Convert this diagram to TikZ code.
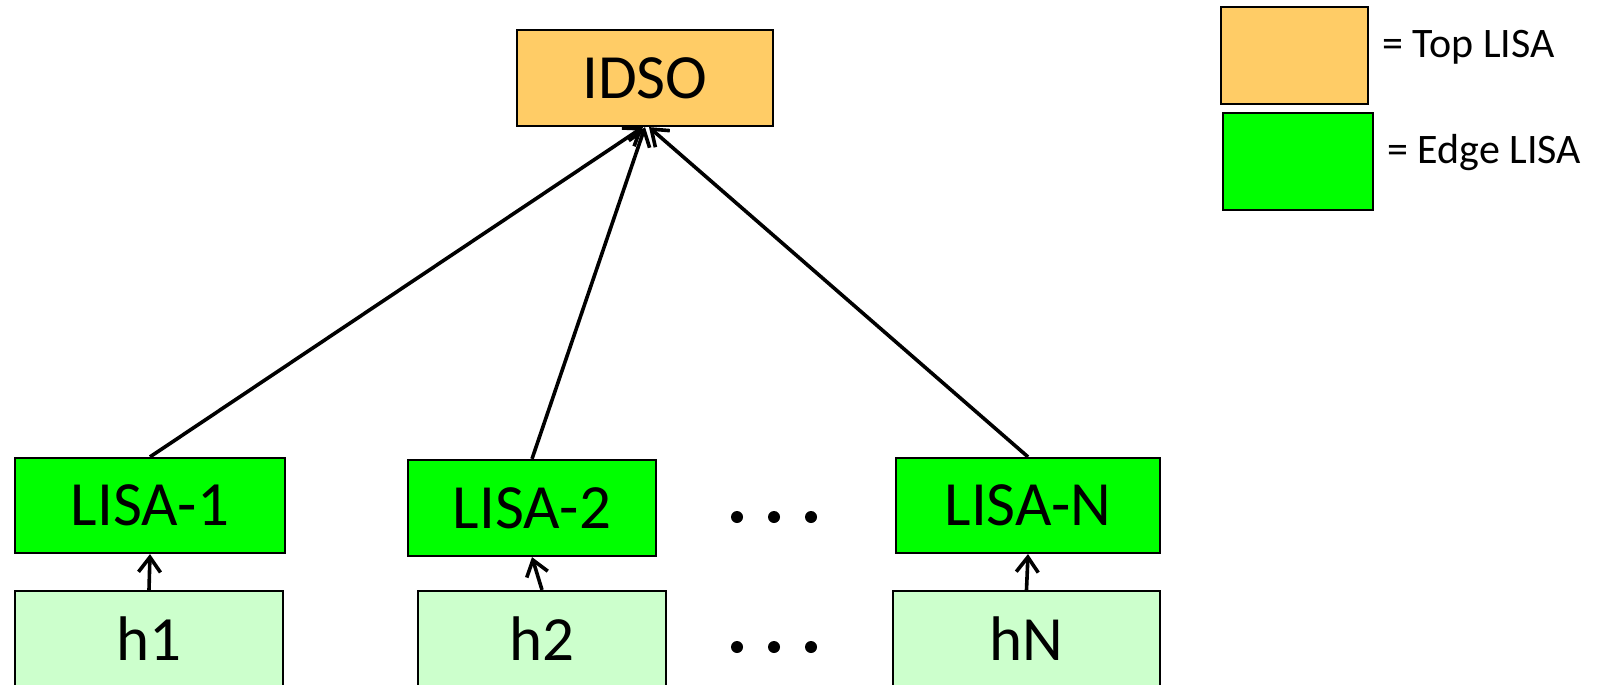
\documentclass[tikz,border=0pt]{standalone}
\usepackage{fontspec}
\setmainfont{Carlito}
\usetikzlibrary{arrows.meta}

\definecolor{topfill}{RGB}{255,204,102}
\definecolor{edgefill}{RGB}{0,255,0}
\definecolor{hostfill}{RGB}{204,255,204}

\tikzset{
  box/.style={draw=black, line width=2.2pt, inner sep=0pt, font=\fontsize{63}{70}\selectfont},
  topbox/.style={box, fill=topfill},
  edgebox/.style={box, fill=edgefill},
  hostbox/.style={box, fill=hostfill},
  link/.style={line width=3.6pt, -{Straight Barb[length=15pt, width=22pt, line width=3.6pt]}},
  legendtxt/.style={anchor=base west, inner sep=0pt, font=\fontsize{42}{50}\selectfont},
  dot/.style={circle, fill=black, inner sep=0pt, minimum size=12pt}
}

\begin{document}
\begin{tikzpicture}[x=1pt, y=-1pt]
  \clip (0,0) rectangle (1601,685);

  % top-level node
  \node[topbox, minimum width=256pt, minimum height=96pt] (idso) at (645,78) {IDSO};

  % edge nodes
  \node[edgebox, minimum width=270pt, minimum height=95pt] (l1) at (150,505.5) {LISA-1};
  \node[edgebox, minimum width=248pt, minimum height=96pt] (l2) at (532,508) {LISA-2};
  \node[edgebox, minimum width=264pt, minimum height=95pt] (ln) at (1028,505.5) {LISA-N};

  % hosts (run off the lower edge)
  \node[hostbox, minimum width=268pt, minimum height=96pt] (h1) at (149,639) {h1};
  \node[hostbox, minimum width=248pt, minimum height=96pt] (h2) at (542,639) {h2};
  \node[hostbox, minimum width=267pt, minimum height=96pt] (hn) at (1026.5,639) {hN};

  % ellipses between the columns
  \node[dot] (d1) at (737,517) {};
  \node[dot] (d2) at (774,517) {};
  \node[dot] (d3) at (811,517) {};
  \node[dot] (e1) at (737,647) {};
  \node[dot] (e2) at (774,647) {};
  \node[dot] (e3) at (811,647) {};

  % reports up to the top node
  \coordinate (t1) at ([xshift=-2pt]idso.south);
  \coordinate (t2) at (idso.south);
  \coordinate (t3) at ([xshift=4pt]idso.south);
  \draw[link] (l1.north) -- (t1);
  \draw[link] (l2.north) -- (t2);
  \draw[link] (ln.north) -- (t3);

  % hosts to their edge nodes
  \draw[link] (h1.north) -- (l1.south);
  \draw[link] (h2.north) -- (l2.south);
  \draw[link] (hn.north) -- (ln.south);

  % legend
  \node[topbox, line width=1.2pt, minimum width=147pt, minimum height=97pt] (lgtop) at (1294.5,55.5) {};
  \node[edgebox, line width=1.2pt, minimum width=150pt, minimum height=97pt] (lgedge) at (1298,161.5) {};
  \node[legendtxt] (lgtoptxt) at (1382,58) {= Top LISA};
  \node[legendtxt] (lgedgetxt) at (1387,163) {= Edge LISA};
\end{tikzpicture}
\end{document}
